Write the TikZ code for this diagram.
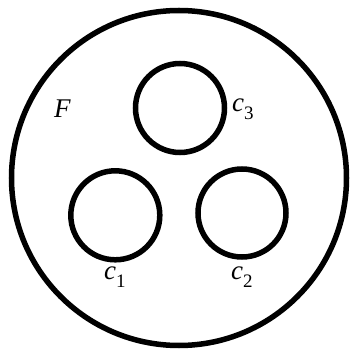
\documentclass[tikz,border=0pt]{standalone}
\usepackage{fontspec}
\setmainfont{Liberation Serif}
\newcommand{\lbl}[2]{\textit{#1}\raisebox{-0.27em}{\fontsize{19}{19}\selectfont #2}}
\begin{document}
\begin{tikzpicture}[x=1pt,y=1pt,
  ring/.style={circle,draw=black,line width=5.5pt,inner sep=0pt},
  txt/.style={inner sep=0pt,anchor=base west,font=\fontsize{27}{27}\selectfont}]
\useasboundingbox (0,0) rectangle (349,351);
\node[ring,minimum size=335pt] (F) at (179,173) {};
\node[ring,minimum size=89pt] (C3) at (180,243) {};
\node[ring,minimum size=89pt] (C1) at (115.3,135.7) {};
\node[ring,minimum size=88pt] (C2) at (242,138) {};
\node[txt] (LF) at (54,233) {\textit{F}};
\node[txt] (L3) at (232,239) {\lbl{c}{3}};
\node[txt] (L1) at (104,71) {\lbl{c}{1}};
\node[txt] (L2) at (231,71) {\lbl{c}{2}};
\end{tikzpicture}
\end{document}
